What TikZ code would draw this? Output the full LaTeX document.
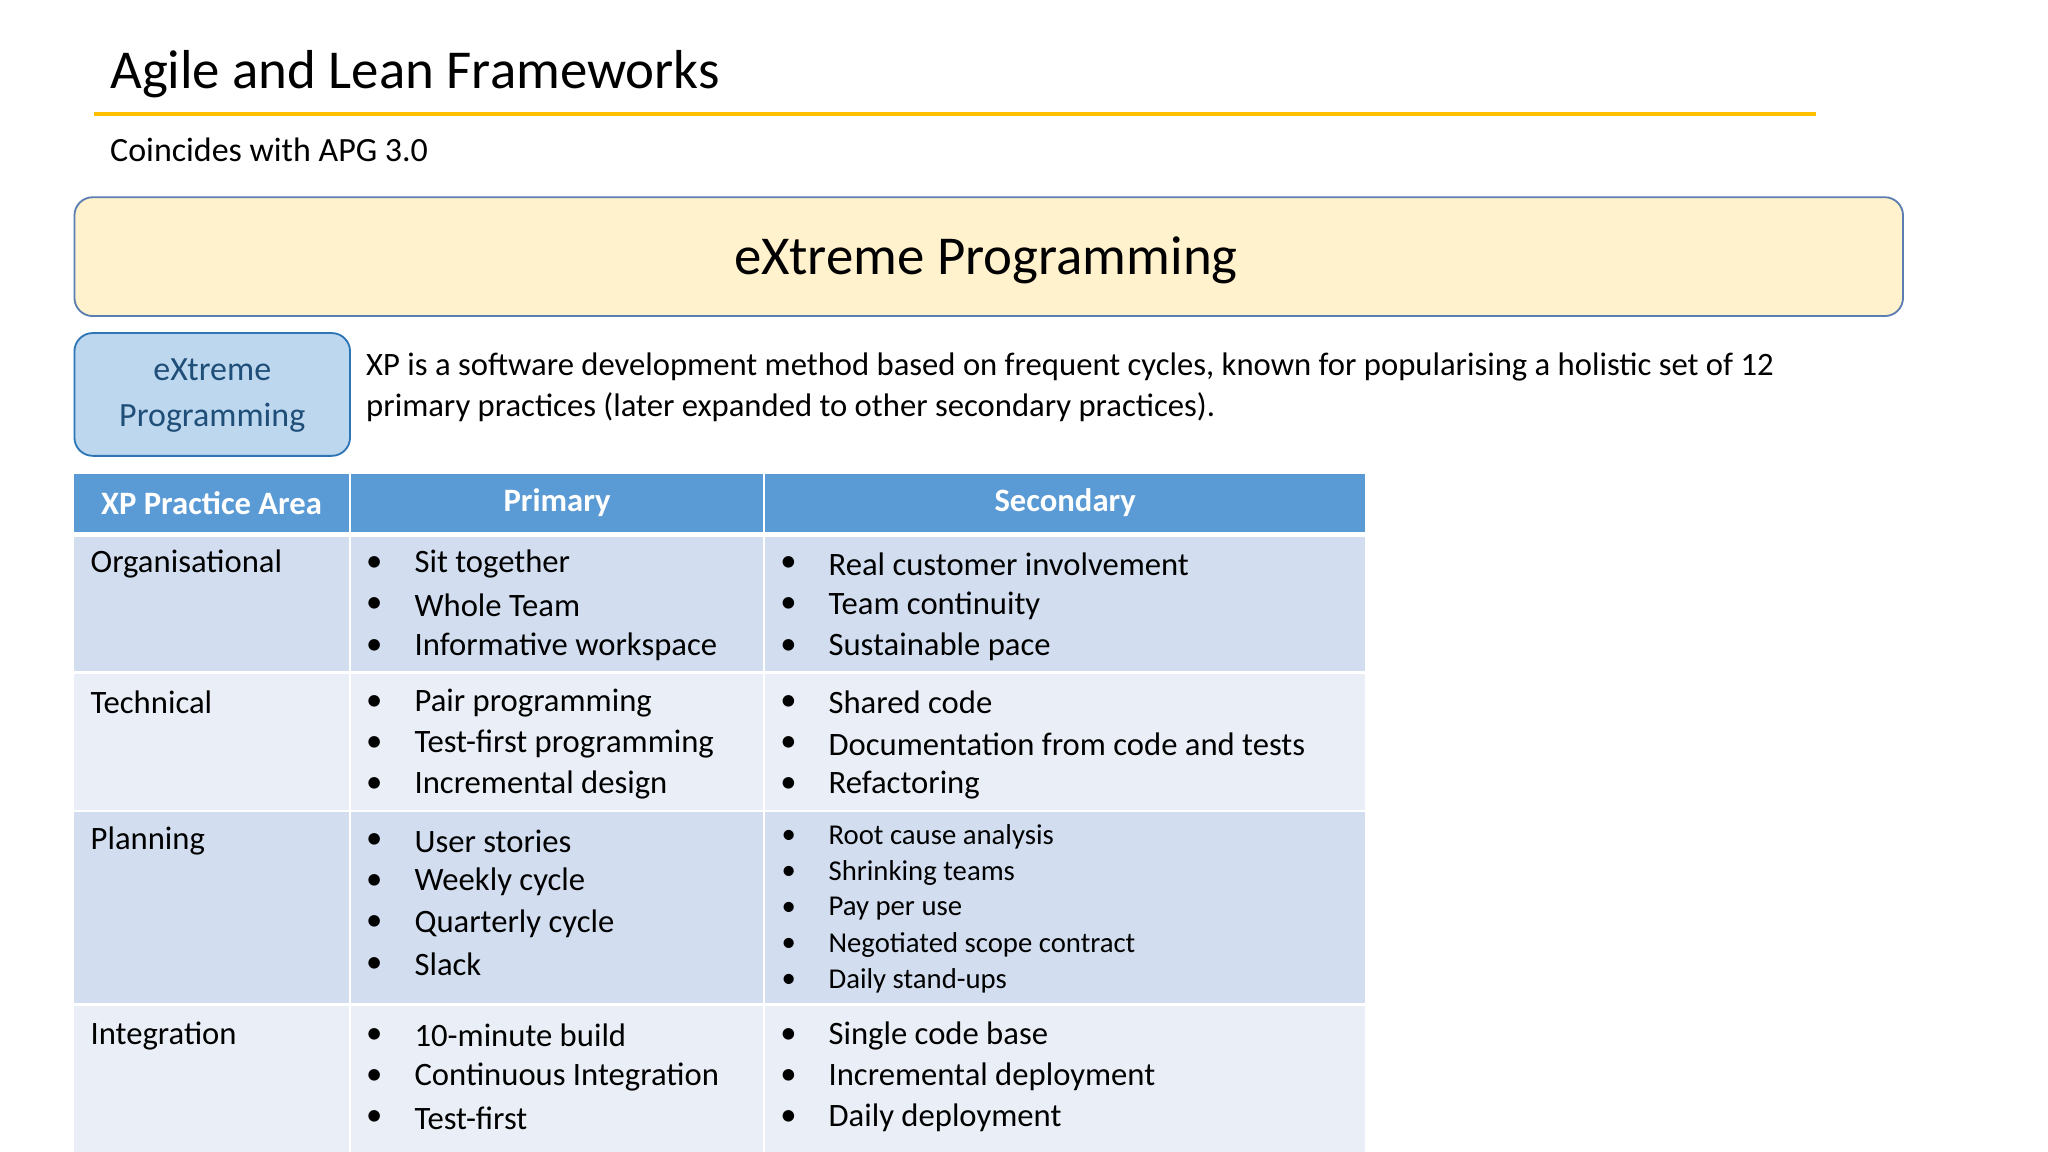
\documentclass[tikz,border=0pt]{standalone}
\usepackage{fontspec}
\setmainfont{Carlito}
\definecolor{gold}{HTML}{FFC000}
\definecolor{ybox}{HTML}{FFF2CC}
\definecolor{yedge}{HTML}{5B7DB1}
\definecolor{bbox}{HTML}{BDD7EE}
\definecolor{bedge}{HTML}{2E75B6}
\definecolor{btext}{HTML}{1F4E79}
\definecolor{hdr}{HTML}{5B9BD5}
\definecolor{rowA}{HTML}{D2DEEF}
\definecolor{rowB}{HTML}{EAEFF7}
\tikzset{
 lbl/.style={anchor=west,inner sep=0pt,font=\fontsize{12.5}{15}\selectfont},
 sml/.style={anchor=west,inner sep=0pt,font=\fontsize{11}{13}\selectfont},
 hd/.style={font=\fontsize{12.5}{15}\selectfont\bfseries,text=white},
 cell/.style={draw=none}
}
\begin{document}
\begin{tikzpicture}[x=0.5pt,y=-0.5pt]
\useasboundingbox[fill=white] (0,0) rectangle (1568,882);
\node[anchor=base west,inner sep=0pt,font=\fontsize{21}{25}\selectfont] (title) at (84,68) {Agile and Lean Frameworks};
\draw[gold,line width=1.6pt] (72,87) -- (1390,87);
\node[anchor=west,inner sep=0pt,font=\fontsize{13}{16}\selectfont] (sub) at (84,115) {Coincides with APG 3.0};
\draw[fill=ybox,draw=yedge,line width=0.7pt,rounded corners=7pt] (57,151) rectangle (1457,242);
\node[font=\fontsize{21}{25}\selectfont] (main) at (755,199) {eXtreme Programming};
\draw[fill=bbox,draw=bedge,line width=0.7pt,rounded corners=7pt] (57,255) rectangle (268,349);
\node[align=center,text=btext,font=\fontsize{13}{17.5}\selectfont] (xp) at (162.5,303) {eXtreme\\Programming};
\node[lbl] (d1) at (280,281) {XP is a software development method based on frequent cycles, known for popularising a holistic set of 12};
\node[lbl] (d2) at (280,312) {primary practices (later expanded to other secondary practices).};
% table
\fill[hdr] (57,363) rectangle (267,407);
\fill[hdr] (269,363) rectangle (584,407);
\fill[hdr] (586,363) rectangle (1045,407);
\node[hd] (h1) at (162,385) {XP Practice Area};
\node[hd] (h2) at (426.5,385) {Primary};
\node[hd] (h3) at (815.5,385) {Secondary};
\foreach \ya/\yb/\c in {411/514/rowA,516/620/rowB,622/768/rowA,770/882/rowB}{
 \fill[\c] (57,\ya) rectangle (267,\yb);
 \fill[\c] (269,\ya) rectangle (584,\yb);
 \fill[\c] (586,\ya) rectangle (1045,\yb);
}
\node[lbl] (r1) at (69,432) {Organisational};
\node[lbl] (r2) at (69,538) {Technical};
\node[lbl] (r3) at (69,644) {Planning};
\node[lbl] (r4) at (69,793) {Integration};
% primary
\foreach \y/\t in {432/Sit together,463.5/Whole Team,495/Informative workspace,538/Pair programming,569.5/Test-first programming,601/Incremental design,644/User stories,675.5/Weekly cycle,707/Quarterly cycle,738.5/Slack,793/10-minute build,824.5/Continuous Integration,856/Test-first}{
 \node[lbl] at (280,\y) {•};
 \node[lbl] at (317,\y) {\t};
}
% secondary
\foreach \y/\t in {432/Real customer involvement,463.5/Team continuity,495/Sustainable pace,538/Shared code/collective ownership,569.5/Documentation from code and tests,601/Refactoring,793/Single code base,824.5/Incremental deployment,856/Daily deployment}{
 \node[lbl] at (597,\y) {•};
 \node[lbl] at (634,\y) {\t};
}
\foreach \y/\t in {641/Root cause analysis,668.5/Shrinking teams,696/Pay per use,723.5/Negotiated scope contract,751/Daily stand-ups}{
 \node[sml] at (598,\y) {•};
 \node[sml] at (634,\y) {\t};
}
\end{tikzpicture}
\end{document}
